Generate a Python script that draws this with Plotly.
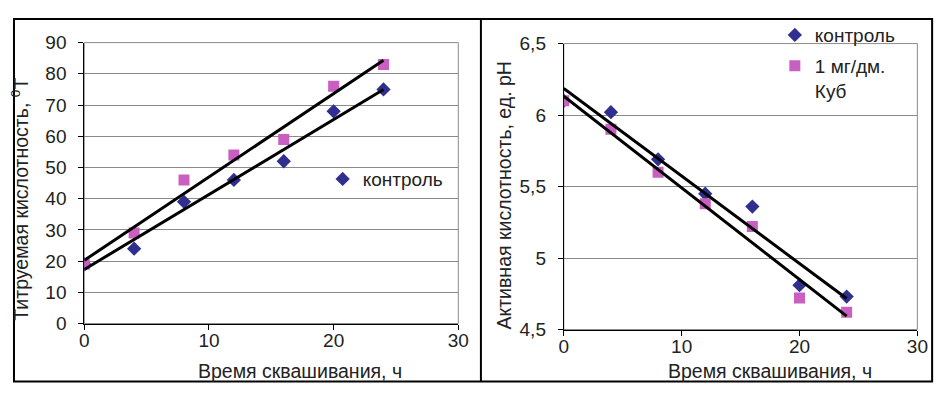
import numpy as np
import plotly.graph_objects as go

# ---------------- data ----------------
time_h = [0, 4, 8, 12, 16, 20, 24]

# left chart: titratable acidity, °T
titr_control = [19, 24, 39, 46, 52, 68, 75]
titr_dose = [19, 29, 46, 54, 59, 76, 83]

# right chart: active acidity, pH
ph_control = [6.10, 6.02, 5.69, 5.45, 5.36, 4.81, 4.73]
ph_dose = [6.10, 5.90, 5.60, 5.38, 5.22, 4.72, 4.62]

name_control = "контроль"
name_dose = "1 мг/дм.<br>Куб"

x_ticks = [0, 10, 20, 30]
left_y_ticks = [0, 10, 20, 30, 40, 50, 60, 70, 80, 90]
right_y_ticks = [4.5, 5.0, 5.5, 6.0, 6.5]
right_y_ticktext = ["4,5", "5", "5,5", "6", "6,5"]

x_title = "Время сквашивания, ч"
left_y_title = "Титруемая кислотность, <sup>0</sup>T"
right_y_title = "Активная кислотность, ед. рН"

# ---------------- styling ----------------
W, H = 942, 395
FONT = "Liberation Sans, Arial, sans-serif"
C_CONTROL = "#2f2f8f"
C_DOSE = "#c95fc0"
GRID = "#8a8a8a"
TXT = "#222"


def px_x(p):
    return p / W


def px_y(p):
    return 1 - p / H


def trend(x, y):
    k, b = np.polyfit(np.array(x, float), np.array(y, float), 1)
    xs = np.array([min(x), max(x)], float)
    return xs, k * xs + b


fig = go.Figure()

# ---- left chart ----
fig.add_trace(go.Scatter(x=time_h, y=titr_control, mode="markers", name=name_control,
                         marker=dict(symbol="diamond", size=11, color=C_CONTROL),
                         xaxis="x", yaxis="y", legend="legend"))
fig.add_trace(go.Scatter(x=time_h, y=titr_dose, mode="markers", name=name_dose,
                         marker=dict(symbol="square", size=11, color=C_DOSE),
                         xaxis="x", yaxis="y", showlegend=False))
for yy in (titr_control, titr_dose):
    tx, ty = trend(time_h, yy)
    fig.add_trace(go.Scatter(x=tx, y=ty, mode="lines", line=dict(color="black", width=3),
                             xaxis="x", yaxis="y", showlegend=False, hoverinfo="skip"))

# ---- right chart ----
fig.add_trace(go.Scatter(x=time_h, y=ph_control, mode="markers", name=name_control,
                         marker=dict(symbol="diamond", size=11, color=C_CONTROL),
                         xaxis="x2", yaxis="y2", legend="legend2", legendgroup="c"))
fig.add_trace(go.Scatter(x=time_h, y=ph_dose, mode="markers", name=name_dose,
                         marker=dict(symbol="square", size=11, color=C_DOSE),
                         xaxis="x2", yaxis="y2", legend="legend2", legendgroup="d"))
for yy in (ph_control, ph_dose):
    tx, ty = trend(time_h, yy)
    fig.add_trace(go.Scatter(x=tx, y=ty, mode="lines", line=dict(color="black", width=3),
                             xaxis="x2", yaxis="y2", showlegend=False, hoverinfo="skip"))

axis_common = dict(showline=True, linecolor="black", linewidth=1,
                   ticks="outside", ticklen=5, tickcolor="black", tickwidth=1,
                   zeroline=False, tickfont=dict(family=FONT, size=19, color=TXT))

fig.update_layout(
    width=W, height=H,
    margin=dict(l=0, r=0, t=0, b=0),
    paper_bgcolor="white", plot_bgcolor="white",
    font=dict(family=FONT, size=19, color=TXT),
    xaxis=dict(domain=[px_x(72.5), px_x(453)], anchor="y", range=[0, 30],
               tickvals=x_ticks, showgrid=False, ticklabelstandoff=-5, **axis_common),
    yaxis=dict(domain=[px_y(322.7), px_y(26)], anchor="x", range=[0, 90],
               tickvals=left_y_ticks, showgrid=True, gridcolor=GRID, gridwidth=1,
               ticklabelstandoff=8, **axis_common),
    xaxis2=dict(domain=[px_x(560.3), px_x(920)], anchor="y2", range=[0, 30],
                tickvals=x_ticks, showgrid=False, ticklabelstandoff=-5, **axis_common),
    yaxis2=dict(domain=[px_y(329), px_y(27)], anchor="x2", range=[4.5, 6.5],
                tickvals=right_y_ticks, ticktext=right_y_ticktext,
                showgrid=True, gridcolor=GRID, gridwidth=1,
                ticklabelstandoff=8, **axis_common),
    legend=dict(x=px_x(315), y=px_y(150), xanchor="left", yanchor="top",
                bgcolor="rgba(0,0,0,0)", font=dict(family=FONT, size=19, color=TXT),
                itemwidth=30),
    legend2=dict(x=px_x(775), y=px_y(-2), xanchor="left", yanchor="top",
                 bgcolor="rgba(0,0,0,0)", font=dict(family=FONT, size=19, color=TXT),
                 valign="top", traceorder="grouped", tracegroupgap=3, itemwidth=30),
    showlegend=True,
)

# plot-area borders (grey, like the Excel plot area)
for xr, yr in (("x domain", "y domain"), ("x2 domain", "y2 domain")):
    fig.add_shape(type="rect", xref=xr, yref=yr, x0=0, x1=1, y0=0, y1=1,
                  line=dict(color=GRID, width=1), layer="below")

# outer frame and divider
fig.add_shape(type="rect", xref="paper", yref="paper",
              x0=px_x(1), x1=px_x(935), y0=px_y(384), y1=px_y(1),
              line=dict(color="black", width=2))
fig.add_shape(type="line", xref="paper", yref="paper",
              x0=px_x(476), x1=px_x(476), y0=px_y(384), y1=px_y(1),
              line=dict(color="black", width=2))

# axis titles
title_font = dict(family=FONT, size=19.5, color=TXT)
fig.add_annotation(text=x_title, xref="paper", yref="paper", x=px_x(292), y=px_y(373),
                   showarrow=False, font=title_font, xanchor="center", yanchor="middle")
fig.add_annotation(text=x_title, xref="paper", yref="paper", x=px_x(770), y=px_y(373),
                   showarrow=False, font=title_font, xanchor="center", yanchor="middle")
fig.add_annotation(text=left_y_title, xref="paper", yref="paper", x=px_x(7), y=px_y(191),
                   showarrow=False, font=title_font, textangle=-90,
                   xanchor="center", yanchor="middle")
fig.add_annotation(text=right_y_title, xref="paper", yref="paper", x=px_x(500), y=px_y(187),
                   showarrow=False, font=title_font, textangle=-90,
                   xanchor="center", yanchor="middle")

fig.write_html("out.html")
